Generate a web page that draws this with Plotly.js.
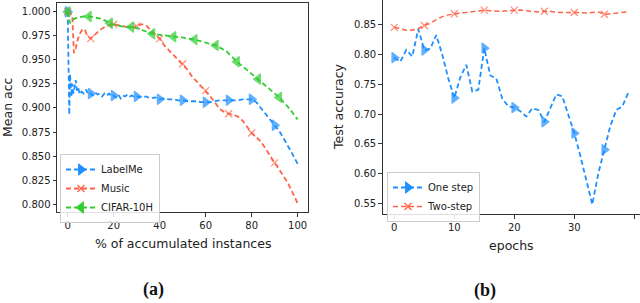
<!DOCTYPE html>
<html>
<head>
<meta charset="utf-8">
<script src="https://cdn.plot.ly/plotly-3.0.1.min.js"></script>
<style>html,body{margin:0;padding:0;background:#fff;}#chart{width:640px;height:303px;}</style>
</head>
<body>
<div id="chart"></div>
<script>
// ---------- Panel (a): mean accuracy vs % of accumulated instances ----------
const labelMeX = [0, 0.4, 0.7, 1.0, 1.3, 1.7, 2.1, 2.5, 3.0, 3.5, 4.0, 4.6, 5.2, 6, 7, 8, 9, 10, 11, 12, 13, 14, 15, 16, 17, 18, 19, 20, 21, 22, 23, 24, 25, 26, 27, 28, 29, 30, 32, 34, 36, 38, 40, 42, 44, 46, 48, 50, 52, 54, 56, 58, 60, 62, 64, 66, 68, 70, 72, 74, 76, 78, 80, 82, 84, 86, 88, 90, 92, 94, 96, 98, 100];
const labelMeY = [1.000, 0.945, 0.893, 0.935, 0.918, 0.912, 0.925, 0.915, 0.922, 0.929, 0.918, 0.921, 0.914, 0.917, 0.915, 0.919, 0.914, 0.915, 0.913, 0.916, 0.914, 0.915, 0.912, 0.915, 0.913, 0.915, 0.912, 0.913, 0.911, 0.914, 0.910, 0.913, 0.912, 0.914, 0.912, 0.913, 0.911, 0.912, 0.911, 0.912, 0.910, 0.911, 0.909, 0.910, 0.909, 0.909, 0.908, 0.908, 0.907, 0.907, 0.907, 0.906, 0.906, 0.906, 0.907, 0.908, 0.908, 0.908, 0.908, 0.908, 0.909, 0.909, 0.909, 0.906, 0.900, 0.894, 0.888, 0.882, 0.876, 0.868, 0.860, 0.851, 0.842];

const musicX = [0, 1, 2, 2.7, 3.5, 4.5, 5.5, 6.5, 7.5, 8.5, 10, 12, 14, 16, 18, 20, 22, 24, 26, 28, 30, 32, 34, 36, 38, 40, 42, 44, 46, 48, 50, 52, 54, 56, 58, 60, 62, 64, 66, 68, 70, 72, 74, 76, 78, 80, 82, 84, 86, 88, 90, 92, 94, 96, 98, 100];
const musicY = [1.000, 0.999, 0.996, 0.957, 0.962, 0.972, 0.978, 0.982, 0.981, 0.975, 0.972, 0.977, 0.981, 0.984, 0.986, 0.987, 0.986, 0.985, 0.984, 0.984, 0.985, 0.987, 0.986, 0.981, 0.976, 0.972, 0.965, 0.960, 0.955, 0.951, 0.946, 0.940, 0.933, 0.928, 0.923, 0.918, 0.912, 0.906, 0.899, 0.896, 0.894, 0.893, 0.891, 0.887, 0.880, 0.874, 0.870, 0.865, 0.858, 0.850, 0.843, 0.836, 0.829, 0.821, 0.811, 0.801];

const cifarX = [0, 1, 2, 3.2, 4.6, 6.9, 9.2, 11.5, 13.8, 16.1, 18.4, 20.7, 23, 25.3, 27.6, 29.9, 32.2, 34.5, 36.8, 40, 43.7, 46, 50.3, 55.2, 59.8, 64.4, 69, 73.6, 78.2, 82.8, 87.4, 92, 96.6, 100];
const cifarY = [1.000, 0.988, 0.991, 0.993, 0.994, 0.995, 0.995, 0.994, 0.993, 0.991, 0.988, 0.986, 0.985, 0.984, 0.984, 0.983, 0.981, 0.979, 0.977, 0.976, 0.975, 0.974, 0.973, 0.971, 0.968, 0.965, 0.959, 0.948, 0.939, 0.930, 0.921, 0.911, 0.899, 0.888];

const panelAYTicks = [0.800, 0.825, 0.850, 0.875, 0.900, 0.925, 0.950, 0.975, 1.000];
const panelAXTicks = [0, 20, 40, 60, 80, 100];

// ---------- Panel (b): test accuracy vs epochs ----------
const epochs = [0, 1, 2, 3, 4, 5, 6, 7, 8, 9, 10, 11, 12, 13, 14, 15, 16, 17, 18, 19, 20, 21, 22, 23, 24, 25, 26, 27, 28, 29, 30, 31, 32, 33, 34, 35, 36, 37, 38, 39];
const oneStep = [0.795, 0.788, 0.808, 0.797, 0.843, 0.808, 0.810, 0.833, 0.800, 0.760, 0.727, 0.762, 0.783, 0.738, 0.741, 0.811, 0.765, 0.760, 0.726, 0.713, 0.711, 0.705, 0.696, 0.710, 0.707, 0.687, 0.710, 0.733, 0.730, 0.700, 0.668, 0.630, 0.590, 0.548, 0.600, 0.640, 0.680, 0.707, 0.713, 0.736];
const twoStep = [0.846, 0.843, 0.841, 0.841, 0.844, 0.849, 0.853, 0.859, 0.864, 0.867, 0.869, 0.870, 0.871, 0.872, 0.873, 0.875, 0.874, 0.873, 0.873, 0.874, 0.875, 0.875, 0.874, 0.873, 0.872, 0.873, 0.873, 0.871, 0.871, 0.872, 0.871, 0.871, 0.870, 0.871, 0.872, 0.868, 0.869, 0.871, 0.872, 0.872];

const panelBYTicks = [0.55, 0.60, 0.65, 0.70, 0.75, 0.80, 0.85];
const panelBXTicks = [0, 10, 20, 30, 40];

// ---------- styling helpers ----------
const BLUE = '#1E90FF', RED = '#FF6347', GREEN = '#32CD32';
function markSizes(xs, markAt, size) {
  return xs.map(v => markAt.some(m => Math.abs(m - v) < 1e-6) ? size : 0);
}
const markA = [0, 10, 20, 30, 40, 50, 60, 70, 80, 90];
const markC = [0, 9.2, 18.4, 27.6, 36.8, 46, 55.2, 64.4, 73.6, 82.8, 92];
const markB = [0, 5, 10, 15, 20, 25, 30, 35];
const DASH = '5px,3px';

const styles = {
  'LabelMe':   {color: BLUE,  symbol: 'triangle-right', size: 9, lw: 1.8},
  'Music':     {color: RED,   symbol: 'x-thin-open',    size: 7, lw: 1.8},
  'CIFAR-10H': {color: GREEN, symbol: 'triangle-left',  size: 9, lw: 1.8},
  'One step':  {color: BLUE,  symbol: 'triangle-right', size: 9, lw: 1.8},
  'Two-step':  {color: RED,   symbol: 'x-thin-open',    size: 7, lw: 1.5}
};

function series(name, xs, ys, marks, xa, ya) {
  const s = styles[name];
  return {x: xs, y: ys, name: name, mode: 'lines+markers', xaxis: xa, yaxis: ya, showlegend: false,
    line: {color: s.color, width: s.lw, dash: DASH},
    marker: {symbol: s.symbol, color: s.color, size: markSizes(xs, marks, s.size), line: {color: s.color, width: 1.3}}};
}
function legendEntry(name, xa, ya, leg) {
  const s = styles[name];
  return {x: [null], y: [null], name: name, mode: 'lines+markers', xaxis: xa, yaxis: ya, legend: leg, showlegend: true,
    line: {color: s.color, width: s.lw, dash: DASH},
    marker: {symbol: s.symbol, color: s.color, size: s.size, line: {color: s.color, width: 1.3}}};
}

const traces = [
  series('LabelMe', labelMeX, labelMeY, markA, 'x', 'y'),
  series('Music', musicX, musicY, markA, 'x', 'y'),
  series('CIFAR-10H', cifarX, cifarY, markC, 'x', 'y'),
  series('One step', epochs, oneStep, markB, 'x2', 'y2'),
  series('Two-step', epochs, twoStep, markB, 'x2', 'y2'),
  legendEntry('LabelMe', 'x', 'y', 'legend'),
  legendEntry('Music', 'x', 'y', 'legend'),
  legendEntry('CIFAR-10H', 'x', 'y', 'legend'),
  legendEntry('One step', 'x2', 'y2', 'legend2'),
  legendEntry('Two-step', 'x2', 'y2', 'legend2')
];

const tickFont = {family: 'DejaVu Sans', size: 10, color: '#222'};
const titleFont = {family: 'DejaVu Sans', size: 12.5, color: '#222'};
const axisCommon = {showgrid: false, zeroline: false, showline: true, linecolor: '#333', linewidth: 1,
  ticks: 'outside', ticklen: 3.5, tickwidth: 1, tickcolor: '#333', tickfont: tickFont, fixedrange: true};
const legendCommon = {xanchor: 'left', yanchor: 'top', bgcolor: 'rgba(255,255,255,0.85)',
  bordercolor: '#ccc', borderwidth: 1, font: {family: 'DejaVu Sans', size: 10, color: '#222'},
  tracegroupgap: 0, traceorder: 'normal'};

const layout = {
  width: 640, height: 303,
  margin: {l: 0, r: 0, t: 0, b: 0},
  paper_bgcolor: '#fff', plot_bgcolor: '#fff',
  showlegend: true,
  xaxis: Object.assign({}, axisCommon, {domain: [57/640, 308/640], range: [-4.65, 104.5], mirror: true,
    tickvals: panelAXTicks, ticktext: panelAXTicks.map(String), anchor: 'y'}),
  yaxis: Object.assign({}, axisCommon, {domain: [(303-212)/303, (303-3)/303], range: [0.792, 1.009], mirror: true,
    tickvals: panelAYTicks, ticktext: panelAYTicks.map(v => v.toFixed(3)), anchor: 'x'}),
  xaxis2: Object.assign({}, axisCommon, {domain: [382.7/640, 1], range: [-1.93, 40.95],
    tickvals: panelBXTicks, ticktext: panelBXTicks.map(String), anchor: 'y2'}),
  yaxis2: Object.assign({}, axisCommon, {domain: [(303-214)/303, 1], range: [0.532, 0.892],
    tickvals: panelBYTicks, ticktext: panelBYTicks.map(v => v.toFixed(2)), anchor: 'x2'}),
  legend: Object.assign({}, legendCommon, {x: 60/640, y: (303-154)/303}),
  legend2: Object.assign({}, legendCommon, {x: 387/640, y: (303-172)/303}),
  annotations: [
    {text: '% of accumulated instances', xref: 'paper', yref: 'paper', x: 183/640, y: (303-243.5)/303,
     xanchor: 'center', yanchor: 'middle', showarrow: false, font: titleFont},
    {text: 'Mean acc', xref: 'paper', yref: 'paper', x: 7.5/640, y: (303-107.5)/303, textangle: -90,
     xanchor: 'center', yanchor: 'middle', showarrow: false, font: titleFont},
    {text: 'epochs', xref: 'paper', yref: 'paper', x: 511.5/640, y: (303-245.5)/303,
     xanchor: 'center', yanchor: 'middle', showarrow: false, font: titleFont},
    {text: 'Test accuracy', xref: 'paper', yref: 'paper', x: 338/640, y: (303-107)/303, textangle: -90,
     xanchor: 'center', yanchor: 'middle', showarrow: false, font: titleFont},
    {text: '<b>(a)</b>', xref: 'paper', yref: 'paper', x: 153/640, y: (303-289.5)/303,
     xanchor: 'center', yanchor: 'middle', showarrow: false, font: {family: 'Liberation Serif', size: 18, color: '#111'}},
    {text: '<b>(b)</b>', xref: 'paper', yref: 'paper', x: 485/640, y: (303-290)/303,
     xanchor: 'center', yanchor: 'middle', showarrow: false, font: {family: 'Liberation Serif', size: 18, color: '#111'}}
  ]
};

Plotly.newPlot('chart', traces, layout, {staticPlot: true, displayModeBar: false});
</script>
</body>
</html>
